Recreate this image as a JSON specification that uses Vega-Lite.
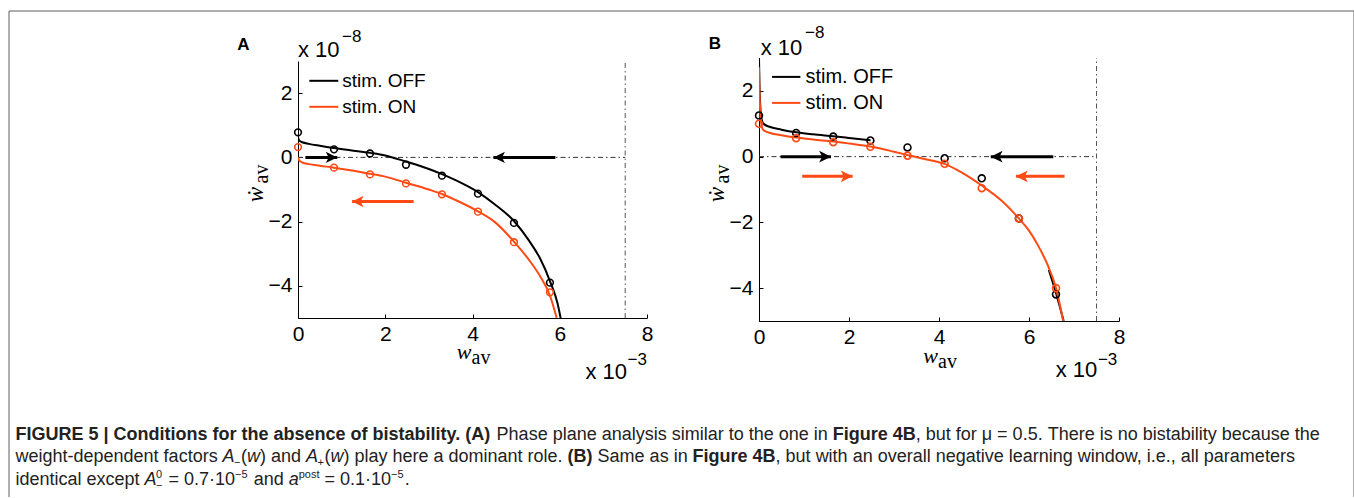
{
  "$schema": "https://vega.github.io/schema/vega-lite/v6.json",
  "padding": {"left": 8, "top": 10, "right": 0, "bottom": 0},
  "background": "white",
  "config": {
    "view": {"stroke": null},
    "font": "Liberation Sans",
    "axis": {"domainColor": "#000", "domainWidth": 1, "tickColor": "#000", "tickWidth": 1, "labelColor": "#000", "labelFont": "Liberation Sans", "labelFontSize": 21, "grid": false, "labelFlush": false, "labelOverlap": false, "ticks": true},
    "axisX": {"tickSize": -4, "labelPadding": 9.5},
    "axisY": {"tickSize": -4, "labelPadding": 10},
    "text": {"color": "#000"}
  },
  "datasets": {
    "curvesA": [
      {"stim": "stim. OFF", "seg": "a", "x": 0, "y": 0.62},
      {"stim": "stim. OFF", "seg": "a", "x": 0.03, "y": 0.52},
      {"stim": "stim. OFF", "seg": "a", "x": 0.1, "y": 0.47},
      {"stim": "stim. OFF", "seg": "a", "x": 0.25, "y": 0.42},
      {"stim": "stim. OFF", "seg": "a", "x": 0.5, "y": 0.36},
      {"stim": "stim. OFF", "seg": "a", "x": 0.825, "y": 0.29},
      {"stim": "stim. OFF", "seg": "a", "x": 1.2, "y": 0.22},
      {"stim": "stim. OFF", "seg": "a", "x": 1.65, "y": 0.14},
      {"stim": "stim. OFF", "seg": "a", "x": 2.0, "y": 0.06},
      {"stim": "stim. OFF", "seg": "a", "x": 2.475, "y": -0.13},
      {"stim": "stim. OFF", "seg": "a", "x": 3.0, "y": -0.36},
      {"stim": "stim. OFF", "seg": "a", "x": 3.3, "y": -0.52},
      {"stim": "stim. OFF", "seg": "a", "x": 3.6, "y": -0.7},
      {"stim": "stim. OFF", "seg": "a", "x": 4.125, "y": -1.08},
      {"stim": "stim. OFF", "seg": "a", "x": 4.5, "y": -1.45},
      {"stim": "stim. OFF", "seg": "a", "x": 4.95, "y": -1.98},
      {"stim": "stim. OFF", "seg": "a", "x": 5.3, "y": -2.6},
      {"stim": "stim. OFF", "seg": "a", "x": 5.55, "y": -3.15},
      {"stim": "stim. OFF", "seg": "a", "x": 5.775, "y": -3.85},
      {"stim": "stim. OFF", "seg": "a", "x": 5.95, "y": -4.55},
      {"stim": "stim. OFF", "seg": "a", "x": 6.02, "y": -5.0},
      {"stim": "stim. ON", "seg": "a", "x": 0, "y": 0.0},
      {"stim": "stim. ON", "seg": "a", "x": 0.03, "y": -0.1},
      {"stim": "stim. ON", "seg": "a", "x": 0.1, "y": -0.16},
      {"stim": "stim. ON", "seg": "a", "x": 0.25, "y": -0.21},
      {"stim": "stim. ON", "seg": "a", "x": 0.5, "y": -0.26},
      {"stim": "stim. ON", "seg": "a", "x": 0.825, "y": -0.32},
      {"stim": "stim. ON", "seg": "a", "x": 1.2, "y": -0.4},
      {"stim": "stim. ON", "seg": "a", "x": 1.65, "y": -0.51},
      {"stim": "stim. ON", "seg": "a", "x": 2.0, "y": -0.6},
      {"stim": "stim. ON", "seg": "a", "x": 2.475, "y": -0.79},
      {"stim": "stim. ON", "seg": "a", "x": 3.0, "y": -1.0},
      {"stim": "stim. ON", "seg": "a", "x": 3.3, "y": -1.14},
      {"stim": "stim. ON", "seg": "a", "x": 3.6, "y": -1.32},
      {"stim": "stim. ON", "seg": "a", "x": 4.125, "y": -1.68},
      {"stim": "stim. ON", "seg": "a", "x": 4.5, "y": -2.0},
      {"stim": "stim. ON", "seg": "a", "x": 4.95, "y": -2.62},
      {"stim": "stim. ON", "seg": "a", "x": 5.3, "y": -3.2},
      {"stim": "stim. ON", "seg": "a", "x": 5.55, "y": -3.7},
      {"stim": "stim. ON", "seg": "a", "x": 5.775, "y": -4.3},
      {"stim": "stim. ON", "seg": "a", "x": 5.93, "y": -5.0}
    ],
    "pointsA": [
      {"stim": "stim. OFF", "x": 0, "y": 0.78},
      {"stim": "stim. OFF", "x": 0.825, "y": 0.25},
      {"stim": "stim. OFF", "x": 1.65, "y": 0.12},
      {"stim": "stim. OFF", "x": 2.475, "y": -0.23},
      {"stim": "stim. OFF", "x": 3.3, "y": -0.57},
      {"stim": "stim. OFF", "x": 4.125, "y": -1.13},
      {"stim": "stim. OFF", "x": 4.95, "y": -2.04},
      {"stim": "stim. OFF", "x": 5.775, "y": -3.9},
      {"stim": "stim. ON", "x": 0, "y": 0.32},
      {"stim": "stim. ON", "x": 0.825, "y": -0.32},
      {"stim": "stim. ON", "x": 1.65, "y": -0.53},
      {"stim": "stim. ON", "x": 2.475, "y": -0.81},
      {"stim": "stim. ON", "x": 3.3, "y": -1.15},
      {"stim": "stim. ON", "x": 4.125, "y": -1.69},
      {"stim": "stim. ON", "x": 4.95, "y": -2.64},
      {"stim": "stim. ON", "x": 5.775, "y": -4.2}
    ],
    "arrowsA": [
      {"stim": "stim. OFF", "tail": 0.17, "tip": 0.9, "y": 0, "dir": "right"},
      {"stim": "stim. OFF", "tail": 5.9, "tip": 4.48, "y": 0, "dir": "left"},
      {"stim": "stim. ON", "tail": 2.65, "tip": 1.24, "y": -1.37, "dir": "left"}
    ],
    "curvesB": [
      {"stim": "stim. OFF", "seg": "a", "x": 0, "y": 3.0},
      {"stim": "stim. OFF", "seg": "a", "x": 0.01, "y": 2.2},
      {"stim": "stim. OFF", "seg": "a", "x": 0.03, "y": 1.5},
      {"stim": "stim. OFF", "seg": "a", "x": 0.06, "y": 1.12},
      {"stim": "stim. OFF", "seg": "a", "x": 0.1, "y": 1.0},
      {"stim": "stim. OFF", "seg": "a", "x": 0.25, "y": 0.9},
      {"stim": "stim. OFF", "seg": "a", "x": 0.5, "y": 0.82},
      {"stim": "stim. OFF", "seg": "a", "x": 0.825, "y": 0.74},
      {"stim": "stim. OFF", "seg": "a", "x": 1.2, "y": 0.68},
      {"stim": "stim. OFF", "seg": "a", "x": 1.65, "y": 0.62},
      {"stim": "stim. OFF", "seg": "a", "x": 2.0, "y": 0.57},
      {"stim": "stim. OFF", "seg": "a", "x": 2.48, "y": 0.5},
      {"stim": "stim. OFF", "seg": "b", "x": 6.44, "y": -3.45},
      {"stim": "stim. OFF", "seg": "b", "x": 6.6, "y": -4.15},
      {"stim": "stim. OFF", "seg": "b", "x": 6.77, "y": -5.0},
      {"stim": "stim. ON", "seg": "a", "x": 0, "y": 2.72},
      {"stim": "stim. ON", "seg": "a", "x": 0.01, "y": 2.0},
      {"stim": "stim. ON", "seg": "a", "x": 0.03, "y": 1.3},
      {"stim": "stim. ON", "seg": "a", "x": 0.06, "y": 0.92},
      {"stim": "stim. ON", "seg": "a", "x": 0.1, "y": 0.8},
      {"stim": "stim. ON", "seg": "a", "x": 0.25, "y": 0.72},
      {"stim": "stim. ON", "seg": "a", "x": 0.5, "y": 0.65},
      {"stim": "stim. ON", "seg": "a", "x": 0.825, "y": 0.58},
      {"stim": "stim. ON", "seg": "a", "x": 1.2, "y": 0.52},
      {"stim": "stim. ON", "seg": "a", "x": 1.65, "y": 0.46},
      {"stim": "stim. ON", "seg": "a", "x": 2.0, "y": 0.4},
      {"stim": "stim. ON", "seg": "a", "x": 2.475, "y": 0.31},
      {"stim": "stim. ON", "seg": "a", "x": 3.0, "y": 0.15},
      {"stim": "stim. ON", "seg": "a", "x": 3.3, "y": 0.05},
      {"stim": "stim. ON", "seg": "a", "x": 3.6, "y": -0.05},
      {"stim": "stim. ON", "seg": "a", "x": 4.125, "y": -0.22},
      {"stim": "stim. ON", "seg": "a", "x": 4.5, "y": -0.48},
      {"stim": "stim. ON", "seg": "a", "x": 4.95, "y": -0.88},
      {"stim": "stim. ON", "seg": "a", "x": 5.4, "y": -1.35},
      {"stim": "stim. ON", "seg": "a", "x": 5.775, "y": -1.88},
      {"stim": "stim. ON", "seg": "a", "x": 6.0, "y": -2.25},
      {"stim": "stim. ON", "seg": "a", "x": 6.2, "y": -2.7},
      {"stim": "stim. ON", "seg": "a", "x": 6.4, "y": -3.25},
      {"stim": "stim. ON", "seg": "a", "x": 6.6, "y": -4.0},
      {"stim": "stim. ON", "seg": "a", "x": 6.76, "y": -5.0}
    ],
    "pointsB": [
      {"stim": "stim. OFF", "x": 0, "y": 1.25},
      {"stim": "stim. OFF", "x": 0.825, "y": 0.72},
      {"stim": "stim. OFF", "x": 1.65, "y": 0.61},
      {"stim": "stim. OFF", "x": 2.475, "y": 0.49},
      {"stim": "stim. OFF", "x": 3.3, "y": 0.28},
      {"stim": "stim. OFF", "x": 4.125, "y": -0.05},
      {"stim": "stim. OFF", "x": 4.95, "y": -0.66},
      {"stim": "stim. OFF", "x": 5.775, "y": -1.88},
      {"stim": "stim. OFF", "x": 6.6, "y": -4.19},
      {"stim": "stim. ON", "x": 0, "y": 1.0},
      {"stim": "stim. ON", "x": 0.825, "y": 0.56},
      {"stim": "stim. ON", "x": 1.65, "y": 0.44},
      {"stim": "stim. ON", "x": 2.475, "y": 0.3},
      {"stim": "stim. ON", "x": 3.3, "y": 0.03},
      {"stim": "stim. ON", "x": 4.125, "y": -0.22},
      {"stim": "stim. ON", "x": 4.95, "y": -0.96},
      {"stim": "stim. ON", "x": 5.775, "y": -1.88},
      {"stim": "stim. ON", "x": 6.6, "y": -4.0}
    ],
    "arrowsB": [
      {"stim": "stim. OFF", "tail": 0.48, "tip": 1.6, "y": 0, "dir": "right"},
      {"stim": "stim. OFF", "tail": 6.54, "tip": 5.15, "y": 0, "dir": "left"},
      {"stim": "stim. ON", "tail": 0.96, "tip": 2.08, "y": -0.6, "dir": "right"},
      {"stim": "stim. ON", "tail": 6.79, "tip": 5.71, "y": -0.6, "dir": "left"}
    ],
    "capRegular": [
      {"line": 1, "start": 487.6, "text": "Phase plane analysis similar to the one in"},
      {"line": 1, "start": 906.7, "text": ", but for μ = 0.5. There is no bistability because the"},
      {"line": 2, "start": 6.5, "text": "weight-dependent factors"},
      {"line": 2, "start": 232, "text": "("},
      {"line": 2, "start": 251, "text": ")"},
      {"line": 2, "start": 262, "text": "and"},
      {"line": 2, "start": 315.5, "text": "("},
      {"line": 2, "start": 334.5, "text": ")"},
      {"line": 2, "start": 345.5, "text": "play here a dominant role."},
      {"line": 2, "start": 588.6, "text": "Same as in"},
      {"line": 2, "start": 766.6, "text": ", but with an overall negative learning window, i.e., all parameters"},
      {"line": 3, "start": 6.5, "text": "identical except"},
      {"line": 3, "start": 159.5, "text": "= 0.7·10"},
      {"line": 3, "start": 244.7, "text": "and"},
      {"line": 3, "start": 315.5, "text": "= 0.1·10"},
      {"line": 3, "start": 395.7, "text": "."}
    ],
    "capBold": [
      {"line": 1, "start": 6.5, "text": "FIGURE 5 | Conditions for the absence of bistability. (A)"},
      {"line": 1, "start": 823.7, "text": "Figure 4B"},
      {"line": 2, "start": 558.6, "text": "(B)"},
      {"line": 2, "start": 683.6, "text": "Figure 4B"}
    ],
    "capItalic": [
      {"line": 2, "start": 213.6, "text": "A"},
      {"line": 2, "start": 238, "text": "w"},
      {"line": 2, "start": 297, "text": "A"},
      {"line": 2, "start": 321.5, "text": "w"},
      {"line": 3, "start": 135.5, "text": "A"},
      {"line": 3, "start": 279.7, "text": "a"}
    ],
    "capSup": [
      {"line": 3, "start": 147, "text": "0"},
      {"line": 3, "start": 226, "text": "−5"},
      {"line": 3, "start": 289.7, "text": "post"},
      {"line": 3, "start": 382, "text": "−5"}
    ],
    "capSub": [
      {"line": 2, "start": 225, "text": "−"},
      {"line": 2, "start": 308.5, "text": "+"},
      {"line": 3, "start": 147, "text": "−"}
    ]
  },
  "bounds": "flush",
  "spacing": 283,
  "vconcat": [
    {
      "bounds": "flush",
      "center": true,
      "spacing": 112,
      "resolve": {"scale": {"color": "independent", "shape": "independent"}, "legend": {"color": "independent"}},
      "hconcat": [
        {"width": 177, "height": 1, "view": {"stroke": null}, "data": {"values": [{}]}, "mark": {"type": "text", "text": ""}},
        {
          "width": 349,
          "height": 257,
          "view": {"stroke": null},
          "layer": [
            {"data": {"values": [{}]}, "mark": {"type": "rule", "color": "#333", "strokeWidth": 1, "strokeDash": [5, 3, 1.5, 3]},
             "encoding": {"x": {"datum": 0, "type": "quantitative", "title": null}, "x2": {"datum": 7.5}, "y": {"datum": 0, "type": "quantitative", "title": null}}},
            {"data": {"values": [{}]}, "mark": {"type": "rule", "color": "#555", "strokeWidth": 1, "strokeDash": [5, 3, 1.5, 3]},
             "encoding": {"x": {"datum": 7.5, "type": "quantitative", "title": null}, "y": {"datum": -5, "type": "quantitative", "title": null}, "y2": {"datum": 3}}},
            {"data": {"name": "curvesA"}, "mark": {"type": "line", "strokeWidth": 2, "interpolate": "monotone", "clip": true},
             "encoding": {
               "x": {"field": "x", "type": "quantitative", "title": null, "scale": {"domain": [0, 8], "nice": false, "zero": false}, "axis": {"values": [0, 2, 4, 6, 8], "title": null}},
               "y": {"field": "y", "type": "quantitative", "title": null, "scale": {"domain": [-5, 3], "nice": false, "zero": false}, "axis": {"values": [-4, -2, 0, 2], "title": null}},
               "color": {"field": "stim", "type": "nominal", "scale": {"domain": ["stim. OFF", "stim. ON"], "range": ["#000000", "#ff4a14"]},
                         "legend": {"orient": "none", "legendX": 10.3, "legendY": 4.3, "title": null, "symbolType": "stroke", "symbolSize": 841, "symbolStrokeWidth": 2, "labelFontSize": 19, "labelFont": "Liberation Sans", "labelColor": "#000", "labelOffset": 3, "rowPadding": -5.6, "padding": 0, "direction": "vertical", "labelLimit": 300}},
               "detail": {"field": "seg"}}},
            {"data": {"name": "pointsA"}, "mark": {"type": "point", "shape": "circle", "filled": false, "size": 45, "strokeWidth": 1.6, "opacity": 1},
             "encoding": {"x": {"field": "x", "type": "quantitative", "title": null}, "y": {"field": "y", "type": "quantitative", "title": null}, "color": {"field": "stim", "type": "nominal"}}},
            {"data": {"name": "arrowsA"}, "mark": {"type": "rule", "strokeWidth": 3},
             "encoding": {"x": {"field": "tail", "type": "quantitative", "title": null}, "x2": {"field": "tip"}, "y": {"field": "y", "type": "quantitative", "title": null}, "color": {"field": "stim", "type": "nominal"}}},
            {"data": {"name": "arrowsA"}, "mark": {"type": "point", "filled": true, "size": 132, "opacity": 1, "strokeWidth": 0},
             "encoding": {"x": {"field": "tip", "type": "quantitative", "title": null}, "y": {"field": "y", "type": "quantitative", "title": null}, "color": {"field": "stim", "type": "nominal"},
                          "shape": {"field": "dir", "type": "nominal", "scale": {"domain": ["right", "left"], "range": ["M0,0L-2,-1L-1.5,0L-2,1Z", "M0,0L2,-1L1.5,0L2,1Z"]}, "legend": null}}},
            {"data": {"values": [{}]}, "mark": {"type": "text", "text": "x 10", "align": "left", "baseline": "alphabetic", "dx": 0, "dy": -4, "fontSize": 22, "font": "Liberation Sans"},
             "encoding": {"x": {"datum": 0, "type": "quantitative", "title": null}, "y": {"datum": 3, "type": "quantitative", "title": null}}},
            {"data": {"values": [{}]}, "mark": {"type": "text", "text": "−8", "align": "left", "baseline": "alphabetic", "dx": 44, "dy": -19, "fontSize": 17, "font": "Liberation Sans"},
             "encoding": {"x": {"datum": 0, "type": "quantitative", "title": null}, "y": {"datum": 3, "type": "quantitative", "title": null}}},
            {"data": {"values": [{}]}, "mark": {"type": "text", "text": "x 10", "align": "right", "baseline": "alphabetic", "dx": -20, "dy": 60.5, "fontSize": 22, "font": "Liberation Sans"},
             "encoding": {"x": {"datum": 8, "type": "quantitative", "title": null}, "y": {"datum": -5, "type": "quantitative", "title": null}}},
            {"data": {"values": [{}]}, "mark": {"type": "text", "text": "−3", "align": "right", "baseline": "alphabetic", "dx": 0, "dy": 46.5, "fontSize": 17, "font": "Liberation Sans"},
             "encoding": {"x": {"datum": 8, "type": "quantitative", "title": null}, "y": {"datum": -5, "type": "quantitative", "title": null}}},
            {"data": {"values": [{}]}, "mark": {"type": "text", "text": "w", "align": "right", "baseline": "alphabetic", "dx": -1, "dy": 41, "fontSize": 22, "fontStyle": "italic", "font": "Liberation Serif"},
             "encoding": {"x": {"datum": 4, "type": "quantitative", "title": null}, "y": {"datum": -5, "type": "quantitative", "title": null}}},
            {"data": {"values": [{}]}, "mark": {"type": "text", "text": "av", "align": "left", "baseline": "alphabetic", "dx": -1, "dy": 46, "fontSize": 20, "font": "Liberation Serif"},
             "encoding": {"x": {"datum": 4, "type": "quantitative", "title": null}, "y": {"datum": -5, "type": "quantitative", "title": null}}},
            {"data": {"values": [{}]}, "mark": {"type": "text", "text": "ẇ", "angle": 270, "align": "center", "baseline": "alphabetic", "dx": -5, "dy": -35.5, "fontSize": 23, "fontStyle": "italic", "font": "Liberation Serif, DejaVu Serif"},
             "encoding": {"x": {"datum": 0, "type": "quantitative", "title": null}, "y": {"datum": -1, "type": "quantitative", "title": null}}},
            {"data": {"values": [{}]}, "mark": {"type": "text", "text": "av", "angle": 270, "align": "center", "baseline": "alphabetic", "dx": 15.5, "dy": -30.5, "fontSize": 20, "font": "Liberation Serif"},
             "encoding": {"x": {"datum": 0, "type": "quantitative", "title": null}, "y": {"datum": -1, "type": "quantitative", "title": null}}},
            {"data": {"values": [{}]}, "mark": {"type": "text", "text": "A", "align": "left", "baseline": "alphabetic", "dx": -60.7, "dy": -11.5, "fontSize": 17, "fontWeight": "bold", "font": "Liberation Sans"},
             "encoding": {"x": {"datum": 0, "type": "quantitative", "title": null}, "y": {"datum": 3, "type": "quantitative", "title": null}}}
          ]
        },
        {
          "width": 360,
          "height": 263,
          "view": {"stroke": null},
          "layer": [
            {"data": {"values": [{}]}, "mark": {"type": "rule", "color": "#333", "strokeWidth": 1, "strokeDash": [5, 3, 1.5, 3]},
             "encoding": {"x": {"datum": 0, "type": "quantitative", "title": null}, "x2": {"datum": 7.5}, "y": {"datum": 0, "type": "quantitative", "title": null}}},
            {"data": {"values": [{}]}, "mark": {"type": "rule", "color": "#555", "strokeWidth": 1, "strokeDash": [5, 3, 1.5, 3]},
             "encoding": {"x": {"datum": 7.5, "type": "quantitative", "title": null}, "y": {"datum": -5, "type": "quantitative", "title": null}, "y2": {"datum": 3}}},
            {"data": {"name": "curvesB"}, "mark": {"type": "line", "strokeWidth": 2, "interpolate": "monotone", "clip": true},
             "encoding": {
               "x": {"field": "x", "type": "quantitative", "title": null, "scale": {"domain": [0, 8], "nice": false, "zero": false}, "axis": {"values": [0, 2, 4, 6, 8], "title": null}},
               "y": {"field": "y", "type": "quantitative", "title": null, "scale": {"domain": [-5, 3], "nice": false, "zero": false}, "axis": {"values": [-4, -2, 0, 2], "title": null}},
               "color": {"field": "stim", "type": "nominal", "scale": {"domain": ["stim. OFF", "stim. ON"], "range": ["#000000", "#ff4a14"]},
                         "legend": {"orient": "none", "legendX": 11.7, "legendY": 3.4, "title": null, "symbolType": "stroke", "symbolSize": 801, "symbolStrokeWidth": 2, "labelFontSize": 20, "labelFont": "Liberation Sans", "labelColor": "#000", "labelOffset": 3.7, "rowPadding": -3.3, "padding": 0, "direction": "vertical", "labelLimit": 300}},
               "detail": {"field": "seg"}}},
            {"data": {"name": "pointsB"}, "mark": {"type": "point", "shape": "circle", "filled": false, "size": 48, "strokeWidth": 1.6, "opacity": 1},
             "encoding": {"x": {"field": "x", "type": "quantitative", "title": null}, "y": {"field": "y", "type": "quantitative", "title": null}, "color": {"field": "stim", "type": "nominal"}}},
            {"data": {"name": "arrowsB"}, "mark": {"type": "rule", "strokeWidth": 3},
             "encoding": {"x": {"field": "tail", "type": "quantitative", "title": null}, "x2": {"field": "tip"}, "y": {"field": "y", "type": "quantitative", "title": null}, "color": {"field": "stim", "type": "nominal"}}},
            {"data": {"name": "arrowsB"}, "mark": {"type": "point", "filled": true, "size": 140, "opacity": 1, "strokeWidth": 0},
             "encoding": {"x": {"field": "tip", "type": "quantitative", "title": null}, "y": {"field": "y", "type": "quantitative", "title": null}, "color": {"field": "stim", "type": "nominal"},
                          "shape": {"field": "dir", "type": "nominal", "scale": {"domain": ["right", "left"], "range": ["M0,0L-2,-1L-1.5,0L-2,1Z", "M0,0L2,-1L1.5,0L2,1Z"]}, "legend": null}}},
            {"data": {"values": [{}]}, "mark": {"type": "text", "text": "x 10", "align": "left", "baseline": "alphabetic", "dx": 1.7, "dy": -3.5, "fontSize": 22, "font": "Liberation Sans"},
             "encoding": {"x": {"datum": 0, "type": "quantitative", "title": null}, "y": {"datum": 3, "type": "quantitative", "title": null}}},
            {"data": {"values": [{}]}, "mark": {"type": "text", "text": "−8", "align": "left", "baseline": "alphabetic", "dx": 46, "dy": -20, "fontSize": 17, "font": "Liberation Sans"},
             "encoding": {"x": {"datum": 0, "type": "quantitative", "title": null}, "y": {"datum": 3, "type": "quantitative", "title": null}}},
            {"data": {"values": [{}]}, "mark": {"type": "text", "text": "x 10", "align": "right", "baseline": "alphabetic", "dx": -21.7, "dy": 56.2, "fontSize": 22, "font": "Liberation Sans"},
             "encoding": {"x": {"datum": 8, "type": "quantitative", "title": null}, "y": {"datum": -5, "type": "quantitative", "title": null}}},
            {"data": {"values": [{}]}, "mark": {"type": "text", "text": "−3", "align": "right", "baseline": "alphabetic", "dx": -1.7, "dy": 43.5, "fontSize": 17, "font": "Liberation Sans"},
             "encoding": {"x": {"datum": 8, "type": "quantitative", "title": null}, "y": {"datum": -5, "type": "quantitative", "title": null}}},
            {"data": {"values": [{}]}, "mark": {"type": "text", "text": "w", "align": "right", "baseline": "alphabetic", "dx": -1, "dy": 41.5, "fontSize": 22, "fontStyle": "italic", "font": "Liberation Serif"},
             "encoding": {"x": {"datum": 4, "type": "quantitative", "title": null}, "y": {"datum": -5, "type": "quantitative", "title": null}}},
            {"data": {"values": [{}]}, "mark": {"type": "text", "text": "av", "align": "left", "baseline": "alphabetic", "dx": -1, "dy": 46.5, "fontSize": 20, "font": "Liberation Serif"},
             "encoding": {"x": {"datum": 4, "type": "quantitative", "title": null}, "y": {"datum": -5, "type": "quantitative", "title": null}}},
            {"data": {"values": [{}]}, "mark": {"type": "text", "text": "ẇ", "angle": 270, "align": "center", "baseline": "alphabetic", "dx": -5, "dy": -35.5, "fontSize": 23, "fontStyle": "italic", "font": "Liberation Serif, DejaVu Serif"},
             "encoding": {"x": {"datum": 0, "type": "quantitative", "title": null}, "y": {"datum": -1, "type": "quantitative", "title": null}}},
            {"data": {"values": [{}]}, "mark": {"type": "text", "text": "av", "angle": 270, "align": "center", "baseline": "alphabetic", "dx": 15.5, "dy": -30.5, "fontSize": 20, "font": "Liberation Serif"},
             "encoding": {"x": {"datum": 0, "type": "quantitative", "title": null}, "y": {"datum": -1, "type": "quantitative", "title": null}}},
            {"data": {"values": [{}]}, "mark": {"type": "text", "text": "B", "align": "left", "baseline": "alphabetic", "dx": -50.3, "dy": -9.5, "fontSize": 17, "fontWeight": "bold", "font": "Liberation Sans"},
             "encoding": {"x": {"datum": 0, "type": "quantitative", "title": null}, "y": {"datum": 3, "type": "quantitative", "title": null}}}
          ]
        }
      ]
    },
    {
      "width": 1345,
      "height": 156,
      "view": {"stroke": null},
      "resolve": {"scale": {"y": "independent"}},
      "layer": [
        {"data": {"values": [{}]}, "mark": {"type": "rule", "color": "#5e5e5e", "strokeWidth": 1},
         "encoding": {"x": {"datum": 0, "type": "quantitative", "scale": {"domain": [0, 1345], "nice": false, "zero": false}, "axis": null},
                      "x2": {"datum": 1345},
                      "y": {"datum": -330, "type": "quantitative", "scale": {"domain": [0, 156], "reverse": true, "nice": false, "zero": false}, "axis": null}}},
        {"data": {"values": [{}]}, "mark": {"type": "rule", "color": "#5e5e5e", "strokeWidth": 1},
         "encoding": {"x": {"datum": 0, "type": "quantitative", "axis": null},
                      "y": {"datum": -330, "type": "quantitative", "scale": {"domain": [0, 156], "reverse": true, "nice": false, "zero": false}, "axis": null},
                      "y2": {"datum": 156}}},
        {"data": {"values": [{}]}, "mark": {"type": "rule", "color": "#5e5e5e", "strokeWidth": 1},
         "encoding": {"x": {"datum": 1345, "type": "quantitative", "axis": null},
                      "y": {"datum": -330, "type": "quantitative", "scale": {"domain": [0, 156], "reverse": true, "nice": false, "zero": false}, "axis": null},
                      "y2": {"datum": 156}}},
        {"data": {"name": "capRegular"}, "mark": {"type": "text", "align": "left", "baseline": "alphabetic", "fontSize": 18, "font": "Liberation Sans", "color": "#222"},
         "encoding": {"x": {"field": "start", "type": "quantitative", "axis": null},
                      "y": {"field": "line", "type": "quantitative", "scale": {"domain": [1, 3], "range": [98.5, 143.5]}, "axis": null},
                      "text": {"field": "text"}}},
        {"data": {"name": "capBold"}, "mark": {"type": "text", "align": "left", "baseline": "alphabetic", "fontSize": 18, "fontWeight": "bold", "font": "Liberation Sans", "color": "#222"},
         "encoding": {"x": {"field": "start", "type": "quantitative", "axis": null},
                      "y": {"field": "line", "type": "quantitative", "scale": {"domain": [1, 3], "range": [98.5, 143.5]}, "axis": null},
                      "text": {"field": "text"}}},
        {"data": {"name": "capItalic"}, "mark": {"type": "text", "align": "left", "baseline": "alphabetic", "fontSize": 18, "fontStyle": "italic", "font": "Liberation Sans", "color": "#222"},
         "encoding": {"x": {"field": "start", "type": "quantitative", "axis": null},
                      "y": {"field": "line", "type": "quantitative", "scale": {"domain": [1, 3], "range": [98.5, 143.5]}, "axis": null},
                      "text": {"field": "text"}}},
        {"data": {"name": "capSup"}, "mark": {"type": "text", "align": "left", "baseline": "alphabetic", "fontSize": 11, "dy": -7, "font": "Liberation Sans", "color": "#222"},
         "encoding": {"x": {"field": "start", "type": "quantitative", "axis": null},
                      "y": {"field": "line", "type": "quantitative", "scale": {"domain": [1, 3], "range": [98.5, 143.5]}, "axis": null},
                      "text": {"field": "text"}}},
        {"data": {"name": "capSub"}, "mark": {"type": "text", "align": "left", "baseline": "alphabetic", "fontSize": 11, "dy": 4, "font": "Liberation Sans", "color": "#222"},
         "encoding": {"x": {"field": "start", "type": "quantitative", "axis": null},
                      "y": {"field": "line", "type": "quantitative", "scale": {"domain": [1, 3], "range": [98.5, 143.5]}, "axis": null},
                      "text": {"field": "text"}}}
      ]
    }
  ]
}
